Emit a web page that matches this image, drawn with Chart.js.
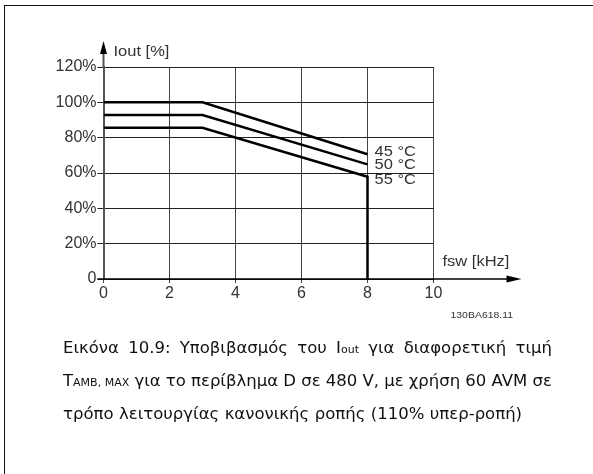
<!DOCTYPE html>
<html>
<head>
<meta charset="utf-8">
<script src="https://cdn.jsdelivr.net/npm/chart.js@4/dist/chart.umd.min.js"></script>
<style>
  html, body { margin: 0; padding: 0; background: #fff; }
  body { width: 593px; height: 474px; position: relative; overflow: hidden; }
  #frame { position: absolute; left: 4px; top: 5px; width: 600px; height: 480px;
           border-left: 1.5px solid #111; border-top: 1.5px solid #111; }
  #wrap { position: absolute; left: 0; top: 0; width: 593px; height: 474px; }
  #caption { position: absolute; left: 63px; top: 331px; width: 489px;
             font-family: "DejaVu Sans", Verdana, sans-serif; font-size: 16.5px;
             line-height: 33px; color: #111; }
  #caption .line { display: flex; white-space: nowrap; height: 33px; }
  #caption .just { justify-content: space-between; }
  #caption .left span { margin-right: 0.33em; }
  #caption .sub { font-size: 11px; }
</style>
</head>
<body>
<div id="frame"></div>
<div id="wrap"><canvas id="c" width="593" height="474"></canvas></div>
<div id="caption"></div>
<script>
// ---- data ----
const freq45 = [0, 3, 8];
const iout45 = [100, 100, 70.6];
const freq50 = [0, 3, 8];
const iout50 = [92.8, 92.8, 64.9];
const freq55 = [0, 3, 8, 8];
const iout55 = [85.6, 85.6, 57.9, 0];
const seriesNames = ["45 °C", "50 °C", "55 °C"];
const xTicks = [0, 2, 4, 6, 8, 10];
const yTicks = [0, 20, 40, 60, 80, 100, 120];
const yTickLabels = ["0", "20%", "40%", "60%", "80%", "100%", "120%"];
const yTitle = "Iout [%]";
const xTitle = "fsw [kHz]";
const figCode = "130BA618.11";
const captionLines = [
  ["Εικόνα", "10.9:", "Υποβιβασμός", "του", "I<span class=\"sub\">out</span>", "για", "διαφορετική", "τιμή"],
  ["T<span class=\"sub\">AMB, MAX</span>", "για", "το", "περίβλημα", "D", "σε", "480", "V,", "με", "χρήση", "60", "AVM", "σε"],
  ["τρόπο", "λειτουργίας", "κανονικής", "ροπής", "(110%", "υπερ-ροπή)"]
];

// caption (real text, justified like the reference)
const cap = document.getElementById('caption');
captionLines.forEach((words, i) => {
  const line = document.createElement('div');
  line.className = 'line ' + (i < 2 ? 'just' : 'left');
  words.forEach(w => {
    const s = document.createElement('span');
    s.innerHTML = w;
    line.appendChild(s);
  });
  cap.appendChild(line);
});

const toPts = (xs, ys) => xs.map((x, i) => ({x: x, y: ys[i]}));

function stretchText(ctx, text, x, y, size, sx) {
  ctx.save();
  ctx.font = size + 'px "Liberation Sans", Arial, sans-serif';
  ctx.textBaseline = 'middle';
  ctx.textAlign = 'left';
  ctx.translate(x, y);
  ctx.scale(sx, 1);
  ctx.fillText(text, 0, 0);
  ctx.restore();
}

const decor = {
  id: 'decor',
  afterDraw(chart) {
    const ctx = chart.ctx;
    const xs = chart.scales.x, ys = chart.scales.y;
    const ca = chart.chartArea;
    const x0 = xs.getPixelForValue(0);
    const y0 = ys.getPixelForValue(0);
    ctx.save();
    // y axis extension + arrow
    ctx.strokeStyle = '#555';
    ctx.lineWidth = 2;
    ctx.beginPath();
    ctx.moveTo(x0, ca.top);
    ctx.lineTo(x0, ca.top - 15);
    ctx.stroke();
    ctx.fillStyle = '#000';
    ctx.beginPath();
    ctx.moveTo(x0, ca.top - 26);
    ctx.lineTo(x0 - 3.5, ca.top - 13);
    ctx.lineTo(x0 + 3.5, ca.top - 13);
    ctx.closePath();
    ctx.fill();
    // x axis full line + arrow
    ctx.strokeStyle = '#000';
    ctx.lineWidth = 1.5;
    ctx.beginPath();
    ctx.moveTo(ca.left - 6, y0);
    ctx.lineTo(ca.right + 75, y0);
    ctx.stroke();
    ctx.beginPath();
    ctx.moveTo(ca.right + 88, y0);
    ctx.lineTo(ca.right + 73, y0 - 3.5);
    ctx.lineTo(ca.right + 73, y0 + 3.5);
    ctx.closePath();
    ctx.fill();
    // texts
    ctx.fillStyle = '#333';
    stretchText(ctx, yTitle, x0 + 10, ca.top - 15, 15, 1.1);
    stretchText(ctx, xTitle, ca.right + 9, y0 - 17, 15, 1.1);
    stretchText(ctx, figCode, ca.right + 17, y0 + 36, 9.5, 1.1);
    const x8 = xs.getPixelForValue(8);
    const ends = [iout45[2], iout50[2], iout55[2]];
    const offs = [-2, 1, 3.5];
    seriesNames.forEach((n, i) => {
      stretchText(ctx, n, x8 + 7, ys.getPixelForValue(ends[i]) + offs[i], 15, 1.1);
    });
    ctx.restore();
  }
};

const ds = (pts) => ({
  data: pts, borderColor: '#000', borderWidth: 2.5, pointRadius: 0,
  tension: 0, fill: false, showLine: true
});

const tickFont = { family: '"Liberation Sans", Arial, sans-serif', size: 16 };

new Chart(document.getElementById('c'), {
  type: 'scatter',
  data: {
    datasets: [
      ds(toPts(freq45, iout45)),
      ds(toPts(freq50, iout50)),
      ds(toPts(freq55, iout55))
    ]
  },
  options: {
    responsive: false,
    animation: false,
    devicePixelRatio: 1,
    layout: { padding: { left: 43.5, top: 67, right: 159.5, bottom: 165 } },
    plugins: { legend: { display: false }, tooltip: { enabled: false } },
    scales: {
      x: {
        type: 'linear', min: 0, max: 10,
        afterFit(s) { s.height = 30; },
        afterBuildTicks(s) { s.ticks = xTicks.map(v => ({value: v})); },
        grid: { color: '#444', lineWidth: 1, tickLength: 4, drawTicks: true },
        border: { display: false },
        ticks: { color: '#333', padding: 1, maxRotation: 0, font: tickFont }
      },
      y: {
        type: 'linear', min: 0, max: 120,
        afterFit(s) { s.width = 60; },
        afterBuildTicks(s) { s.ticks = yTicks.map(v => ({value: v})); },
        grid: { color: '#222', lineWidth: 1, tickLength: 6, drawTicks: true },
        border: { display: true, color: '#555', width: 2 },
        ticks: { color: '#333', padding: 1, font: tickFont,
                 callback: (v) => yTickLabels[yTicks.indexOf(v)] }
      }
    }
  },
  plugins: [decor]
});
</script>
</body>
</html>
